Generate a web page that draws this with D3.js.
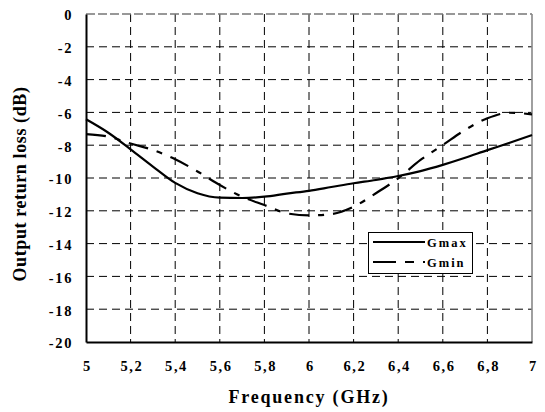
<!DOCTYPE html>
<html><head><meta charset="utf-8">
<script src="https://cdn.jsdelivr.net/npm/d3@7"></script>
<style>body{margin:0;background:#fff}svg{display:block}</style>
</head><body>
<script>
const freq = [5.0,5.1,5.2,5.3,5.4,5.5,5.6,5.7,5.8,5.9,6.0,6.1,6.2,6.3,6.4,6.5,6.6,6.7,6.8,6.9,7.0];
const gmax = [-6.42,-7.24,-8.25,-9.3,-10.3,-10.93,-11.2,-11.22,-11.14,-10.95,-10.78,-10.55,-10.32,-10.12,-9.88,-9.58,-9.2,-8.77,-8.3,-7.85,-7.38];
const gmin = [-7.32,-7.48,-7.9,-8.29,-8.86,-9.6,-10.43,-11.14,-11.65,-12.15,-12.28,-12.2,-11.75,-10.93,-10.02,-8.9,-7.99,-7.07,-6.36,-6.02,-6.12];
const xTicks = [5,5.2,5.4,5.6,5.8,6,6.2,6.4,6.6,6.8,7];
const yTicks = [0,-2,-4,-6,-8,-10,-12,-14,-16,-18,-20];
const seriesNames = ["Gmax","Gmin"];

const W=545,H=412;
const L=86,R=532,T=14,B=342;
const svg=d3.select("body").append("svg").attr("width",W).attr("height",H);
const x=d3.scaleLinear().domain([5,7]).range([L,R]);
const y=d3.scaleLinear().domain([-20,0]).range([B,T]);
const font='"Liberation Serif"';

// grid
svg.append("g").selectAll("line").data(xTicks.filter(d=>d>5&&d<7)).join("line")
 .attr("x1",d=>x(d)).attr("x2",d=>x(d)).attr("y1",T).attr("y2",B)
 .attr("stroke","#000").attr("stroke-width",1).attr("stroke-dasharray","8,5");
svg.append("g").selectAll("line").data(yTicks.filter(d=>d<0&&d>-20)).join("line")
 .attr("x1",L).attr("x2",R).attr("y1",d=>y(d)).attr("y2",d=>y(d))
 .attr("stroke","#000").attr("stroke-width",1).attr("stroke-dasharray","8,5");
// top and right borders
svg.append("line").attr("x1",L).attr("x2",R).attr("y1",T).attr("y2",T)
 .attr("stroke","#777").attr("stroke-width",1.6).attr("stroke-dasharray","9,3");
svg.append("line").attr("x1",R).attr("x2",R).attr("y1",T).attr("y2",B)
 .attr("stroke","#888").attr("stroke-width",1.6);

// axes
const xAxis=d3.axisBottom(x).tickValues(xTicks).tickSize(0).tickPadding(19)
 .tickFormat(d=>String(d).replace(".",","));
const gx=svg.append("g").attr("transform",`translate(0,${B})`).call(xAxis);
gx.attr("font-family",null).attr("font-size",null);
gx.select(".domain").attr("stroke","#000").attr("stroke-width",2);
gx.selectAll("text").style("font-family",font).style("font-weight","bold").style("font-size","14.5px")
 .attr("letter-spacing",1.6).attr("dx",0.8).attr("fill","#000");
const yAxis=d3.axisLeft(y).tickValues(yTicks).tickSize(0).tickPadding(13).tickFormat(d=>String(d));
const gy=svg.append("g").attr("transform",`translate(${L},0)`).call(yAxis);
gy.attr("font-family",null).attr("font-size",null);
gy.select(".domain").attr("stroke","#000").attr("stroke-width",2);
gy.selectAll("text").style("font-family",font).style("font-weight","bold").style("font-size","14.5px")
 .attr("letter-spacing",1.6).attr("dy","0.4em").attr("fill","#000");

// lines
const line=d3.line().x((d,i)=>x(freq[i])).y(d=>y(d)).curve(d3.curveMonotoneX);
svg.append("path").attr("d",line(gmax)).attr("fill","none").attr("stroke","#000").attr("stroke-width",2.2);
svg.append("path").attr("d",line(gmin)).attr("fill","none").attr("stroke","#000").attr("stroke-width",2.2)
 .attr("stroke-dasharray","20,9,6,9");

// legend
const lg=svg.append("g");
lg.append("rect").attr("x",368.5).attr("y",232.5).attr("width",104).attr("height",41)
 .attr("fill","#fff").attr("stroke","#000").attr("stroke-width",1);
const dashes=[null,"23,9,9,9"];
seriesNames.forEach((n,i)=>{
  const yy=242+i*20;
  lg.append("line").attr("x1",373).attr("x2",425).attr("y1",yy).attr("y2",yy)
    .attr("stroke","#000").attr("stroke-width",2.2).attr("stroke-dasharray",dashes[i]);
  lg.append("text").attr("x",427).attr("y",yy+4.5).text(n)
    .style("font-family",font).style("font-weight","bold").style("font-size","12.5px").attr("letter-spacing",2);
});

// titles
svg.append("text").attr("x",309).attr("y",403).attr("text-anchor","middle")
 .style("font-family",font).style("font-weight","bold").style("font-size","18px").attr("letter-spacing",1.8)
 .text("Frequency (GHz)");
svg.append("text").attr("transform","translate(26,184) rotate(-90)").attr("text-anchor","middle")
 .style("font-family",font).style("font-weight","bold").style("font-size","18px").attr("letter-spacing",0.6)
 .text("Output return loss (dB)");
</script>
</body></html>
